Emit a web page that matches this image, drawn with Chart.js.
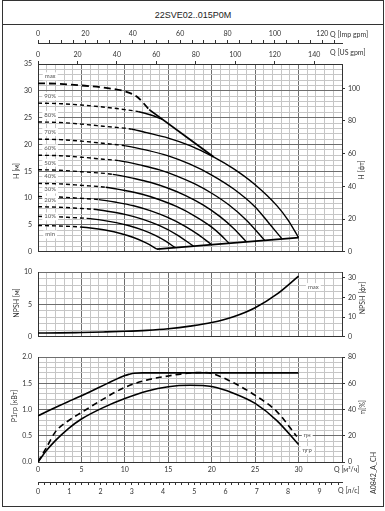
<!DOCTYPE html>
<html>
<head>
<meta charset="utf-8">
<script src="https://cdn.jsdelivr.net/npm/chart.js@4.4.0/dist/chart.umd.min.js"></script>
<style>
body { margin: 0; background: #fff; }
#frame { position: absolute; left: 2px; top: 0; width: 380px; height: 505px; border: 1px solid #333; }
#head { position: absolute; left: 0; top: 0; width: 100%; height: 23px; border-bottom: 1px solid #333;
        font: 9px "Liberation Sans", Arial, sans-serif; text-align: center; line-height: 28px; color: #222; }
canvas { position: absolute; left: 0; }
</style>
</head>
<body>
<div id="frame"><div id="head">22SVE02..015P0M</div></div>
<canvas id="cH" width="385" height="237" style="top:25px"></canvas>
<canvas id="cN" width="385" height="85" style="top:262px"></canvas>
<canvas id="cP" width="385" height="158" style="top:347px"></canvas>
<script>
// --- data (Q in m3/h) ---
const speedNames = ['max', '90%', '80%', '70%', '60%', '50%', '40%', '30%', '20%', '10%', 'min'];
const minFlow = [12.8, 11.6, 10.8, 10.1, 9.3, 8.6, 7.8, 7.0, 6.4, 5.6, 4.85];
const speedQ = [
  [0, 2.5, 5, 7.5, 10, 11.4, 12.8],
  [0, 2.7, 5.4, 8.0, 10.0, 11.6, 13.0, 14.3],
  [0, 2.5, 5, 7.5, 10.8, 12.5, 15, 17.5, 20.2, 22.5, 25, 27.5, 28.75, 30],
  [0, 2.5, 5, 7.5, 10.1, 12.5, 15, 17.5, 20, 22.5, 25, 26.5, 28.1],
  [0, 2.5, 5, 7.5, 9.3, 12, 14, 16, 18, 20, 22, 24, 26.1],
  [0, 2.5, 5, 8.6, 11, 13, 15, 17, 19, 21, 22.5, 24.0],
  [0, 2.5, 5, 7.8, 10, 12, 14, 16, 18, 20, 21, 22.0],
  [0, 2.5, 5, 7.0, 9, 11, 13, 15, 17, 18.5, 20.0],
  [0, 2.5, 4.5, 6.4, 8, 10, 12, 14, 16, 17.9],
  [0, 2, 4, 5.6, 7.5, 9, 10.5, 12, 13.5, 14.7, 15.8],
  [0, 2, 4.85, 6.5, 8, 9.5, 11, 12.5, 13.7]
];
const speedH = [
  [31.4, 31.3, 31.0, 30.6, 29.9, 28.9, 26.5],
  [27.7, 27.6, 27.3, 26.9, 26.5, 26.1, 25.5, 24.7],
  [24.2, 24.1, 23.8, 23.4, 22.85, 22.2, 21.2, 19.8, 17.7, 15.5, 12.5, 8.6, 6.0, 2.66],
  [21.0, 20.91, 20.62, 20.22, 19.75, 18.95, 17.87, 16.32, 14.31, 11.74, 8.36, 5.52, 2.4],
  [18.0, 17.91, 17.63, 17.26, 17.0, 16.09, 15.26, 14.12, 12.69, 10.91, 8.71, 5.89, 2.13],
  [15.3, 15.2, 14.92, 14.44, 13.69, 12.92, 11.84, 10.47, 8.73, 6.5, 4.39, 1.85],
  [12.75, 12.66, 12.38, 12.04, 11.43, 10.72, 9.7, 8.4, 6.71, 4.6, 3.2, 1.58],
  [10.3, 10.21, 9.95, 9.73, 9.23, 8.58, 7.62, 6.35, 4.7, 3.15, 1.32],
  [8.4, 8.3, 8.12, 7.92, 7.56, 6.98, 6.09, 4.86, 3.17, 1.05],
  [6.6, 6.54, 6.37, 6.23, 5.85, 5.44, 4.85, 4.07, 3.05, 1.98, 0.77],
  [4.9, 4.83, 4.63, 4.34, 3.97, 3.41, 2.67, 1.62, 0.5]
];
const limitQ = [12.8, 20.2];
const limitH = [26.5, 17.7];
const endQ = [13.7, 30];
const endH = [0.49, 2.66];

const npshQ = [0, 2.5, 5, 7.5, 10, 12.5, 15, 17.5, 20, 22.5, 25, 27.5, 30];
const npshM = [0.58, 0.6, 0.67, 0.75, 0.85, 1.0, 1.25, 1.65, 2.2, 3.1, 4.5, 6.6, 9.4];

const powQ = [0, 2, 4, 6, 8, 10, 10.5, 11, 12, 15, 20, 25, 30];
const powKW = [0.88, 1.04, 1.19, 1.34, 1.50, 1.65, 1.675, 1.695, 1.70, 1.70, 1.70, 1.70, 1.70];

const etaPumpQ = [0, 1, 2, 3.5, 5, 7.5, 10, 12.5, 15, 17.5, 19, 20, 22.5, 25, 27.5, 29.8];
const etaPump = [0, 11.4, 23.0, 31.5, 37.8, 48, 57, 62.5, 65.7, 68.0, 68.3, 67.6, 60.5, 50.9, 38.5, 19.5];
const etaGrQ = [0, 1, 2, 3.5, 5, 7.5, 10, 12.5, 15, 17.5, 20, 22.5, 25, 27.5, 30];
const etaGroup = [0, 8.9, 16.3, 25.5, 32.8, 41.5, 48.4, 54.0, 57.5, 58.6, 57.6, 52.5, 44.7, 31.6, 13.3];

// tick labels
const qTicks = [0, 5, 10, 15, 20, 25, 30];
const lsTicks = [0, 1, 2, 3, 4, 5, 6, 7, 8, 9];
const impTicks = [0, 20, 40, 60, 80, 100, 120];
const usTicks = [0, 20, 40, 60, 80, 100, 120, 140];
const hTicks = [0, 5, 10, 15, 20, 25, 30, 35];
const ftTicks = [0, 20, 40, 60, 80, 100];
const npshTicks = [0, 5, 10];
const npshFtTicks = [0, 10, 20, 30];
const pTicks = [0, 0.5, 1, 1.5, 2];
const etaTicks = [0, 20, 40, 60, 80];

// --- helpers ---
const FONT = { family: 'Lato, sans-serif', size: 7 };
const INK = '#333';
const MAJ = '#6e6e6e', MIN = '#c6c6c6';

function pick(list, fmt) {
  return v => list.some(t => Math.abs(t - v) < 1e-6) ? (fmt ? fmt(v) : String(v)) : '';
}
function gridColor(major) {
  return c => {
    if (!c.tick) return MIN;
    const r = c.tick.value / major;
    return Math.abs(r - Math.round(r)) < 1e-6 ? MAJ : MIN;
  };
}
function qGrid() {
  return {
    type: 'linear', min: 0, max: 35, position: 'bottom',
    ticks: { display: false, stepSize: 1, autoSkip: false },
    grid: { color: gridColor(5), drawTicks: false },
    border: { color: INK },
    afterFit: s => { s.height = 0; }
  };
}
function leftY(max, step, major, list, fmt) {
  return {
    type: 'linear', position: 'left', min: 0, max: max,
    ticks: { stepSize: step, autoSkip: false, font: FONT, color: INK, padding: 6, callback: pick(list, fmt) },
    grid: { color: gridColor(major), drawTicks: false },
    border: { color: INK },
    afterFit: s => { s.width = 38; }
  };
}
function rightY(max, step, list) {
  return {
    type: 'linear', position: 'right', min: 0, max: max,
    ticks: { stepSize: step, autoSkip: false, includeBounds: false, font: FONT, color: INK, padding: 3, callback: pick(list) },
    grid: { drawOnChartArea: false, tickLength: 3, color: INK },
    border: { color: INK },
    afterFit: s => { s.width = 43; }
  };
}
function topQ(max, step, list, weight, h) {
  return {
    type: 'linear', position: 'top', min: 0, max: max, weight: weight,
    ticks: { stepSize: step, autoSkip: false, includeBounds: false, font: FONT, color: INK, padding: 2, maxRotation: 0, callback: pick(list) },
    grid: { drawOnChartArea: false, tickLength: 3, color: INK },
    border: { color: INK },
    afterFit: s => { s.height = h; }
  };
}
function line(qs, vs, opts) {
  return Object.assign({
    data: qs.map((q, i) => ({ x: q, y: vs[i] })),
    borderColor: '#000', borderWidth: 1.5, pointRadius: 0,
    cubicInterpolationMode: 'monotone', fill: false
  }, opts || {});
}

// free text: axis units, curve names
const textMarks = {
  id: 'textMarks',
  afterDatasetsDraw(chart, args, opts) {
    const ctx = chart.ctx;
    (opts.items || []).forEach(it => {
      let x = it.x, y = it.y;
      if (it.q !== undefined) {
        x = chart.scales[it.xs || 'x'].getPixelForValue(it.q) + (it.dx || 0);
        y = chart.scales[it.ys || 'y'].getPixelForValue(it.v) + (it.dy || 0);
      }
      ctx.save();
      ctx.translate(x, y);
      if (it.rot) ctx.rotate(it.rot);
      ctx.font = it.font || '7px Lato, sans-serif';
      ctx.textAlign = it.align || 'center';
      ctx.textBaseline = 'middle';
      if (it.box) {
        const w = ctx.measureText(it.text).width;
        ctx.fillStyle = '#fff';
        ctx.fillRect(-w / 2 - 2, -4, w + 4, 8);
      }
      ctx.fillStyle = it.color || INK;
      ctx.fillText(it.text, 0, 0);
      ctx.restore();
    });
  }
};

const base = {
  responsive: false, animation: false, events: []
};
const UP = -Math.PI / 2;

// --- H chart ---
const hSets = speedNames.map((name, i) => line(speedQ[i], speedH[i], {
  borderWidth: i === 0 ? 1.8 : 1.4,
  segment: { borderDash: c => c.p1.parsed.x <= minFlow[i] + 1e-6 ? (i === 0 ? [7, 4] : [4, 3]) : undefined }
}));
hSets.push(line(limitQ, limitH, { borderWidth: 1.8, cubicInterpolationMode: 'default' }));
hSets.push(line(endQ, endH, { borderWidth: 1.8, cubicInterpolationMode: 'default' }));

const speedMarks = speedNames.map((n, i) => ({
  text: n, q: 1.4, v: speedH[i][0], dy: n === 'min' ? 9 : (n === '10%' ? 0 : -7),
  box: true, font: '6px Lato, sans-serif', color: '#555'
}));

new Chart(document.getElementById('cH'), {
  type: 'line',
  data: { datasets: hSets },
  options: Object.assign({}, base, {
    layout: { padding: { bottom: 5 } },
    plugins: {
      legend: { display: false }, tooltip: { enabled: false },
      textMarks: { items: [
        { text: 'H [м]', x: 17, y: 146, rot: UP },
        { text: 'H [фт]', x: 362, y: 145, rot: UP },
        { text: 'Q [Imp gpm]', x: 330, y: 10, align: 'left' },
        { text: 'Q [US gpm]', x: 330, y: 28, align: 'left' }
      ].concat(speedMarks) }
    },
    scales: {
      x: qGrid(),
      xu: topQ(35 * 4.403, 20, usTicks, 0, 21),
      xi: topQ(35 * 3.666, 5, impTicks, 1, 18),
      y: leftY(35, 1, 5, hTicks),
      yft: rightY(35 / 0.3048, 20, ftTicks)
    }
  }),
  plugins: [textMarks]
});

// --- NPSH chart ---
new Chart(document.getElementById('cN'), {
  type: 'line',
  data: { datasets: [line(npshQ, npshM, { borderWidth: 1.6 })] },
  options: Object.assign({}, base, {
    layout: { padding: { top: 5, bottom: 5 } },
    plugins: {
      legend: { display: false }, tooltip: { enabled: false },
      textMarks: { items: [
        { text: 'NPSH [м]', x: 17, y: 41, rot: UP },
        { text: 'NPSH [фт]', x: 363, y: 36, rot: UP },
        { text: 'max', q: 31.7, v: 7.7, box: true, font: '6px Lato, sans-serif', color: '#555' }
      ] }
    },
    scales: {
      x: qGrid(),
      y: leftY(10, 1, 5, npshTicks),
      yft: rightY(10 / 0.3048, 10, npshFtTicks)
    }
  }),
  plugins: [textMarks]
});

// --- power / efficiency chart ---
new Chart(document.getElementById('cP'), {
  type: 'line',
  data: { datasets: [
    line(powQ, powKW, { borderWidth: 1.6 }),
    line(etaPumpQ, etaPump, { yAxisID: 'yeta', borderWidth: 1.6, borderDash: [6, 4] }),
    line(etaGrQ, etaGroup, { yAxisID: 'yeta', borderWidth: 1.6 })
  ] },
  options: Object.assign({}, base, {
    layout: { padding: { top: 7, bottom: 1 } },
    plugins: {
      legend: { display: false }, tooltip: { enabled: false },
      textMarks: { items: [
        { text: 'P1гр [кВт]', x: 15, y: 59, rot: UP },
        { text: 'η[%]', x: 363, y: 60, rot: UP },
        { text: 'ηн', q: 31.0, v: 20.7, ys: 'yeta', box: true, font: '6px Lato, sans-serif', color: '#555' },
        { text: 'ηгр', q: 31.0, v: 8.9, ys: 'yeta', box: true, font: '6px Lato, sans-serif', color: '#555' },
        { text: 'Q [м³/ч]', x: 334, y: 123, align: 'left' },
        { text: 'Q [л/с]', x: 338, y: 144, align: 'left' },
        { text: 'A0842_A_CH', x: 374, y: 126, rot: UP }
      ] }
    },
    scales: {
      x: {
        type: 'linear', position: 'bottom', min: 0, max: 35, weight: 0,
        ticks: { stepSize: 1, autoSkip: false, font: FONT, color: INK, padding: 4, maxRotation: 0, callback: pick(qTicks) },
        grid: { color: gridColor(5), drawTicks: false },
        border: { color: INK },
        afterFit: s => { s.height = 20; }
      },
      xl: {
        type: 'linear', position: 'bottom', min: 0, max: 35 / 3.6, weight: 1,
        ticks: { stepSize: 0.2, autoSkip: false, includeBounds: false, font: FONT, color: INK, padding: 3, maxRotation: 0, callback: pick(lsTicks) },
        grid: { drawOnChartArea: false, tickLength: 3, color: INK },
        border: { color: INK },
        afterFit: s => { s.height = 22; }
      },
      y: leftY(2, 0.1, 0.5, pTicks, v => v.toFixed(1)),
      yeta: rightY(80, 20, etaTicks)
    }
  }),
  plugins: [textMarks]
});
</script>
</body>
</html>
